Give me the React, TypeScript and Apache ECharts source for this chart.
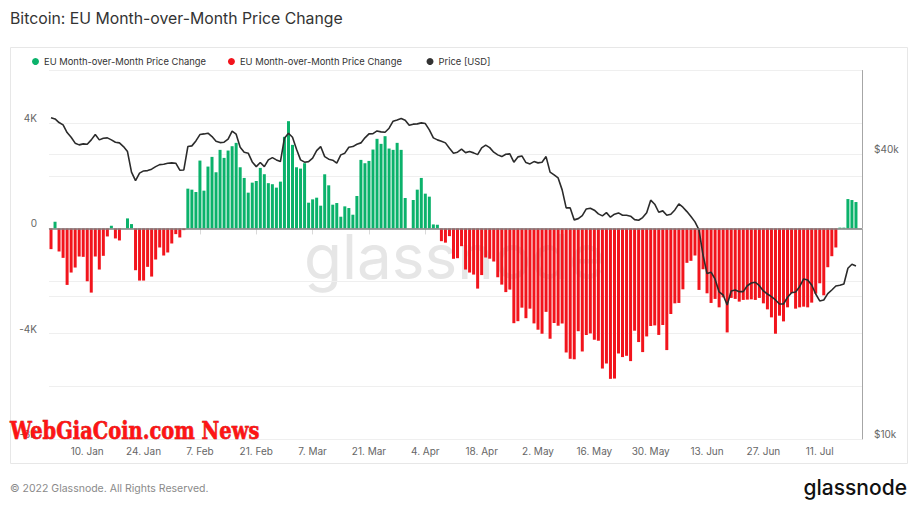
import React, { useEffect, useRef } from "react";
import * as echarts from "echarts";

const TITLE = "Bitcoin: EU Month-over-Month Price Change";
const GREEN_NAME = "EU Month-over-Month Price Change";
const RED_NAME = "EU Month-over-Month Price Change ";
const PRICE_NAME = "Price [USD]";

const MONTHS = ["Jan", "Feb", "Mar", "Apr", "May", "Jun", "Jul", "Aug", "Sep", "Oct", "Nov", "Dec"];
const START_UTC = Date.UTC(2022, 0, 1);
const DAY_COUNT = 202; // 1 Jan 2022 .. 21 Jul 2022
const FIRST_LABEL_INDEX = 9; // 10. Jan
const LABEL_STEP = 14;

const DATES: string[] = Array.from({ length: DAY_COUNT }, (_, i) => {
  const d = new Date(START_UTC + i * 86400000);
  return `${d.getUTCDate()}. ${MONTHS[d.getUTCMonth()]}`;
});

// EU month-over-month price change (USD), daily from 1 Jan 2022
const CHANGES: number[] = [
  -787, 254, -876, -1118, -2146, -1676, -1486, -1067, -1080, -2007,
  -2438, -1067, -1562, -1041, -305, 102, -381, -457, 0, 381,
  165, -1588, -1981, -1981, -1460, -1829, -1181, -724, -1029, -914,
  -572, -216, -343, -64, 1511, 1473, 1384, 2578, 1435, 2350,
  2718, 2134, 2985, 2680, 2959, 3124, 3251, 2324, 1918, 1359,
  1740, 1800, 2300, 2060, 1720, 1680, 1550, 1778, 3480, 4075,
  3175, 2324, 2273, 2477, 978, 1105, 1168, 864, 2057, 1638,
  902, 965, 445, 838, 775, 521, 1232, 2604, 2477, 2565,
  2997, 3404, 3213, 3505, 3035, 2985, 3251, 2985, 1156, 0,
  1080, 1473, 1918, 1321, 1207, 152, 140, -484, -540, -293,
  -1154, -1131, -674, -1562, -1676, -1753, -2286, -1772, -1105, -1150,
  -1257, -1855, -2134, -2419, -2324, -3600, -3524, -3010, -3410, -3048,
  -3608, -3848, -4000, -3170, -4191, -3593, -3696, -3612, -4713, -4953,
  -4972, -3905, -4675, -4050, -3989, -4229, -4267, -5323, -5132, -5715,
  -5704, -4751, -4888, -4839, -5041, -3886, -4317, -4698, -4103, -3707,
  -3684, -4046, -3669, -4622, -3250, -2846, -2831, -2313, -1307, -1231,
  -1029, -2336, -1551, -2465, -2831, -2678, -2998, -2617, -3951, -2640,
  -2678, -2781, -2716, -2705, -2694, -2716, -2640, -2846, -3075, -3379,
  -4000, -3315, -3532, -2998, -2450, -3048, -2998, -2972, -2998, -2819,
  -2477, -2084, -2541, -1474, -1055, -724, 30, 30, 1116, 1079,
  1003,
];

// BTC price (USD), daily from 1 Jan 2022
const PRICES: number[] = [
  47710, 47420, 46580, 46060, 44370, 43380, 42140, 41790, 42000, 41930,
  42820, 43940, 42820, 43170, 43240, 42820, 42340, 42200, 41450, 40450,
  36600, 35120, 36420, 36820, 36880, 37130, 37600, 37970, 38040, 38230,
  38290, 38230, 36950, 37000, 41450, 41590, 42610, 43940, 44080, 44230,
  43510, 42550, 42260, 42340, 42960, 44670, 44020, 41320, 40330, 40140,
  38470, 37600, 38350, 37600, 38850, 39290, 38850, 38530, 43170, 44230,
  43380, 40930, 38850, 38420, 38530, 39170, 40650, 41450, 39480, 38980,
  38790, 38230, 39810, 40140, 41320, 41450, 41930, 42200, 43240, 44080,
  44150, 44730, 44520, 44450, 45320, 46900, 47190, 47490, 47120, 45990,
  46220, 46280, 46510, 46350, 44960, 43240, 42820, 42550, 42200, 41120,
  40140, 40330, 40930, 40250, 40450, 40200, 39860, 41190, 41730, 41240,
  40330, 39810, 39480, 39940, 40000, 38420, 39420, 39610, 38350, 38100,
  38530, 38290, 38420, 39480, 36600, 36120, 35590, 33580, 30760, 30760,
  29020, 29200, 29630, 30610, 30720, 30420, 29880, 29590, 30060, 29400,
  29830, 30020, 29690, 29690, 29540, 29060, 28970, 29350, 30060, 31940,
  31320, 30120, 30320, 29690, 29830, 30460, 31370, 30870, 30210, 29490,
  28740, 27640, 24460, 22350, 22500, 21750, 20440, 20140, 19190, 20540,
  20640, 20470, 20470, 21070, 21350, 21430, 21070, 20540, 20240, 19980,
  19660, 19280, 19280, 19920, 20370, 20440, 20970, 21780, 21670, 21140,
  20240, 19570, 19660, 20270, 20640, 21040, 21110, 21250, 22940, 23390,
  23200,
];

const CHANGE_MIN = -8000;
const CHANGE_MAX = 6000;
const CHANGE_STEP = 2000;
const CHANGE_LABEL_STEP = 4000;
const PRICE_MIN = 10000;
const PRICE_MAX = 60000;
const PRICE_LABELS = [10000, 40000];

const GREEN = "#0bb26b";
const RED = "#f2141c";
const LINE = "#2b2b2b";
const FONT = "Inter, 'Noto Sans', sans-serif";

export default function App() {
  const ref = useRef<HTMLDivElement>(null);

  useEffect(() => {
    if (!ref.current) return;
    const chart = echarts.init(ref.current, undefined, { renderer: "svg" });

    const green = CHANGES.map((v) => (v > 0 ? v : null));
    const red = CHANGES.map((v) => (v < 0 ? v : null));
    const priceLog = PRICES.map((p) => Math.log2(p / PRICE_MIN));
    const showIdx = (i: number) => i >= FIRST_LABEL_INDEX && (i - FIRST_LABEL_INDEX) % LABEL_STEP === 0;

    const yLabel = {
      color: "#666666",
      fontSize: 10,
      margin: 12,
      fontFamily: FONT,
      verticalAlign: "bottom",
      lineHeight: 10,
    };

    const option: any = {
      animation: false,
      backgroundColor: "#ffffff",
      textStyle: { fontFamily: FONT },
      graphic: [
        {
          type: "rect",
          z: -5,
          silent: true,
          shape: { x: 10.5, y: 47.5, width: 897, height: 416 },
          style: { fill: "none", stroke: "#e7e7e7", lineWidth: 1 },
        },
        {
          type: "text",
          x: 10,
          y: 18,
          z: 1,
          style: { text: TITLE, fontSize: 15.8, fill: "#333333", fontFamily: FONT, verticalAlign: "middle" },
        },
        {
          type: "text",
          x: 304,
          y: 256,
          z: 0,
          silent: true,
          style: { text: "glassnode", fontSize: 62, fill: "#e6e6e6", fontFamily: FONT, verticalAlign: "middle" },
        },
        {
          type: "text",
          x: 10,
          y: 431,
          z: 100,
          scaleX: 0.81,
          style: {
            text: "WebGiaCoin.com News",
            fontSize: 24,
            fontWeight: 900,
            fill: "#ff1414",
            stroke: "#b00000",
            lineWidth: 0.6,
            fontFamily: "'DejaVu Serif', serif",
            verticalAlign: "middle",
          },
        },
        {
          type: "text",
          x: 10,
          y: 488,
          z: 1,
          style: { text: "© 2022 Glassnode. All Rights Reserved.", fontSize: 10.5, fill: "#8a8a8a", fontFamily: FONT, verticalAlign: "middle" },
        },
        {
          type: "text",
          x: 907,
          y: 487,
          z: 1,
          style: { text: "glassnode", fontSize: 21, fontWeight: 500, fill: "#111111", fontFamily: FONT, align: "right", verticalAlign: "middle" },
        },
      ],
      legend: {
        left: 27,
        top: 52,
        icon: "circle",
        itemWidth: 7,
        itemHeight: 7,
        itemGap: 22,
        textStyle: { fontSize: 9.4, color: "#333333", fontFamily: FONT },
        data: [GREEN_NAME, RED_NAME, PRICE_NAME],
      },
      grid: { left: 49, right: 61, top: 70.5, bottom: 72, containLabel: false },
      xAxis: {
        type: "category",
        data: DATES,
        boundaryGap: true,
        axisLine: { show: true, lineStyle: { color: "#e6e6e6" } },
        axisTick: {
          show: true,
          alignWithLabel: true,
          interval: (i: number) => showIdx(i),
          length: 6,
          lineStyle: { color: "#d9d9d9" },
        },
        axisLabel: {
          interval: (i: number) => showIdx(i),
          color: "#666666",
          fontSize: 10,
          margin: 7,
          fontFamily: FONT,
        },
        splitLine: { show: false },
      },
      yAxis: [
        {
          type: "value",
          position: "left",
          min: CHANGE_MIN,
          max: CHANGE_MAX,
          interval: CHANGE_STEP,
          axisLine: { show: false },
          axisTick: { show: false },
          splitLine: { show: true, lineStyle: { color: "#efefef", width: 1 } },
          axisLabel: {
            ...yLabel,
            formatter: (v: number) =>
              v % CHANGE_LABEL_STEP === 0 && v !== CHANGE_MAX ? (v === 0 ? "0" : `${v / 1000}K`) : "",
          },
        },
        {
          type: "value",
          position: "right",
          min: 0,
          max: Math.log2(PRICE_MAX / PRICE_MIN),
          interval: 1,
          axisLine: { show: true, lineStyle: { color: "#a6a6a6", width: 1 } },
          axisTick: { show: false },
          splitLine: { show: true, lineStyle: { color: "#efefef", width: 1 } },
          axisLabel: {
            ...yLabel,
            formatter: (v: number) => {
              const p = Math.round(PRICE_MIN * Math.pow(2, v));
              return PRICE_LABELS.indexOf(p) >= 0 ? `$${p / 1000}k` : "";
            },
          },
        },
      ],
      series: [
        {
          name: GREEN_NAME,
          type: "bar",
          data: green,
          barWidth: 3,
          barGap: "-100%",
          itemStyle: { color: GREEN },
          z: 2,
        },
        {
          name: RED_NAME,
          type: "bar",
          data: red,
          barWidth: 3,
          barGap: "-100%",
          itemStyle: { color: RED },
          z: 2,
          markLine: {
            silent: true,
            symbol: "none",
            label: { show: false },
            lineStyle: { color: "#808080", width: 1.5, type: "solid" },
            data: [{ yAxis: 0 }],
          },
        },
        {
          name: PRICE_NAME,
          type: "line",
          yAxisIndex: 1,
          data: priceLog,
          symbol: "none",
          showSymbol: false,
          itemStyle: { color: "#333333" },
          lineStyle: { color: LINE, width: 1.6 },
          z: 4,
        },
      ],
    };

    chart.setOption(option);
    return () => chart.dispose();
  }, []);

  return <div ref={ref} style={{ position: "fixed", left: 0, top: 0, width: 923, height: 511 }} />;
}
